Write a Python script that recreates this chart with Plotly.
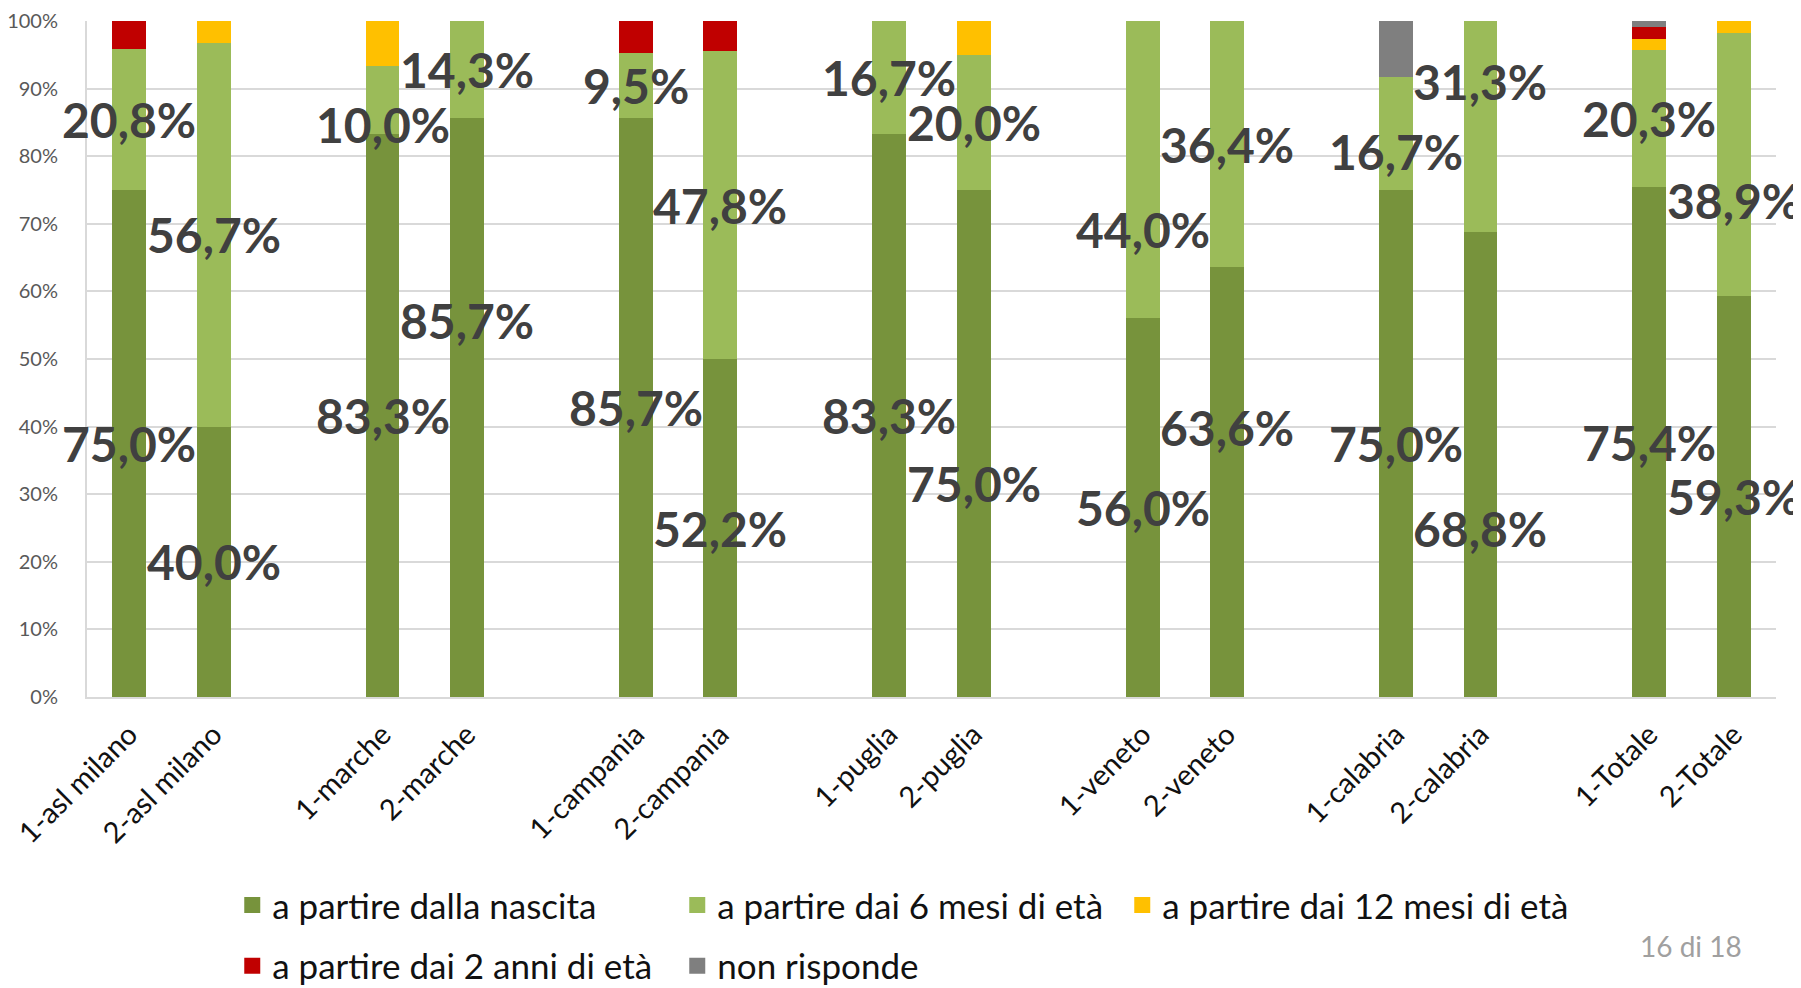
import plotly.graph_objects as go

categorie = ['1-asl milano', '2-asl milano', '1-marche', '2-marche', '1-campania', '2-campania',
             '1-puglia', '2-puglia', '1-veneto', '2-veneto', '1-calabria', '2-calabria',
             '1-Totale', '2-Totale']

# percentuali
nascita = [75.0, 40.0, 83.3, 85.7, 85.7, 50.0, 83.3, 75.0, 56.0, 63.6, 75.0, 68.8, 75.4, 59.3]
mesi6 = [20.8, 56.7, 10.0, 14.3, 9.5, 45.5, 16.7, 20.0, 44.0, 36.4, 16.7, 31.2, 20.3, 38.9]
mesi12 = [0, 3.3, 6.7, 0, 0, 0, 0, 5.0, 0, 0, 0, 0, 1.7, 1.8]
anni2 = [4.2, 0, 0, 0, 4.8, 4.5, 0, 0, 0, 0, 0, 0, 1.7, 0]
non_risponde = [0, 0, 0, 0, 0, 0, 0, 0, 0, 0, 8.3, 0, 0.9, 0]

# etichette come scritte nel grafico originale
nascita_lbl = ['75,0%', '40,0%', '83,3%', '85,7%', '85,7%', '52,2%', '83,3%', '75,0%',
               '56,0%', '63,6%', '75,0%', '68,8%', '75,4%', '59,3%']
mesi6_lbl = ['20,8%', '56,7%', '10,0%', '14,3%', '9,5%', '47,8%', '16,7%', '20,0%',
             '44,0%', '36,4%', '16,7%', '31,3%', '20,3%', '38,9%']

# spostamento verticale (px) delle etichette spostate a mano nell'originale
sposta_nascita = [0, 0, 0, 87, 0, 0, 0, -40, 0, 55, 0, -64, 0, 0]
sposta_mesi6 = [0, 0, -24, 0, 0, 0, 0, 0, -60, 0, -18, 45, 0, -36]

# coppie di barre con uno spazio vuoto tra le regioni
xpos = [i + i // 2 for i in range(len(categorie))]

serie = [
    ('a partire dalla nascita', nascita, '#77933C', 'legend'),
    ('a partire dai 6 mesi di età', mesi6, '#9BBB59', 'legend'),
    ('a partire dai 12 mesi di età', mesi12, '#FFC000', 'legend'),
    ('a partire dai 2 anni di età', anni2, '#C00000', 'legend2'),
    ('non risponde', non_risponde, '#7F7F7F', 'legend2'),
]

fig = go.Figure()
for nome, valori, colore, leg in serie:
    fig.add_trace(go.Bar(
        x=xpos, y=valori, name=nome, width=0.4, showlegend=False,
        marker=dict(color=colore, line=dict(width=0)),
    ))
    # voce di legenda con quadratino più grande
    fig.add_trace(go.Scatter(
        x=[None], y=[None], mode='markers', name=nome, legend=leg,
        marker=dict(symbol='square', size=16, color=colore),
    ))

# etichette dati al centro di ogni segmento
font_lbl = dict(family='Lato', size=48, color='#404040', weight='bold')
for i, x in enumerate(xpos):
    fig.add_annotation(x=x, y=nascita[i] / 2, text=nascita_lbl[i], showarrow=False,
                       yshift=sposta_nascita[i], font=font_lbl)
    fig.add_annotation(x=x, y=nascita[i] + mesi6[i] / 2, text=mesi6_lbl[i], showarrow=False,
                       yshift=sposta_mesi6[i], font=font_lbl)

legenda = dict(
    orientation='h', xanchor='left', yanchor='middle',
    font=dict(size=35, color='#111111'), entrywidth=400, traceorder='normal',
    itemwidth=30, bgcolor='rgba(0,0,0,0)',
)

fig.update_layout(
    barmode='stack',
    width=1793, height=1000,
    margin=dict(l=79, r=25, t=13, b=305),
    plot_bgcolor='white', paper_bgcolor='white',
    font=dict(family='Lato'),
    xaxis=dict(
        range=[-0.5, 19.5], tickvals=xpos, ticktext=categorie, tickangle=-45,
        tickfont=dict(size=29, color='#111111'), showgrid=False, automargin=False,
        showline=True, linecolor='#D9D9D9', linewidth=2, ticklabelstandoff=7,
        ticklabeloverflow='allow',
    ),
    yaxis=dict(
        range=[0, 100], dtick=10, ticksuffix='%', automargin=False,
        tickfont=dict(size=20, color='#595959'),
        showline=True, linecolor='#D9D9D9', linewidth=2,
        gridcolor='#D9D9D9', gridwidth=1.5, zeroline=False, ticklabelstandoff=23,
    ),
    legend=dict(legenda, x=0.086, y=-0.308),
    legend2=dict(legenda, x=0.086, y=-0.398),
    showlegend=True,
)

fig.add_annotation(text='16 di 18', xref='paper', yref='paper', x=0.9497, y=-0.369,
                   xanchor='center', yanchor='middle',
                   showarrow=False, font=dict(size=28, color='#A0A0A0'))

fig.write_html("out.html")
